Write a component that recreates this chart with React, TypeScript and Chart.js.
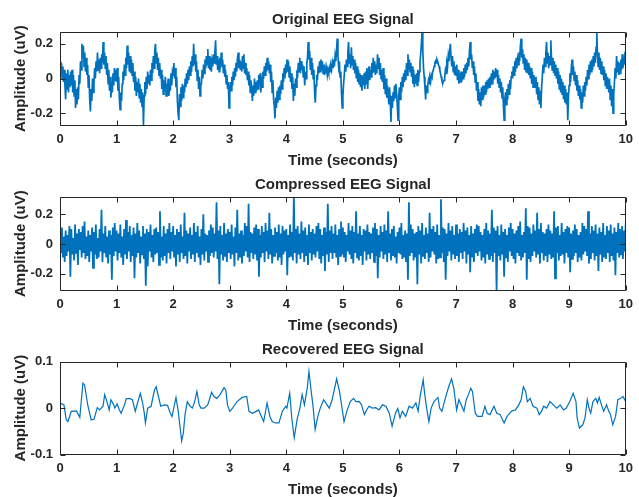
import React, { useEffect, useRef } from 'react';
import { Chart, registerables } from 'chart.js';

Chart.register(...registerables);

const TITLES = ['Original EEG Signal', 'Compressed EEG Signal', 'Recovered EEG Signal'];
const X_LABEL = 'Time (seconds)';
const Y_LABEL = 'Amplitude (uV)';
const X_TICKS = [0, 1, 2, 3, 4, 5, 6, 7, 8, 9, 10];
const Y_TICKS_ORIGINAL = [-0.2, 0, 0.2];
const Y_TICKS_COMPRESSED = [-0.2, 0, 0.2];
const Y_TICKS_RECOVERED = [-0.1, 0, 0.1];
const DURATION = 10;

// Original EEG signal, sampled uniformly over 0..10 s (8 samples per 0.1 s)
const originalSignal = [
  0.10, 0.03, 0.09, 0.00, 0.07, -0.02, 0.05, -0.04,
  -0.12, 0.03, -0.06, 0.05, -0.08, 0.02, -0.05, 0.04,
  -0.04, 0.05, -0.08, 0.02, -0.10, -0.01, -0.17, -0.06,
  -0.15, -0.05, -0.12, 0.02, -0.03, 0.10, 0.05, 0.20,
  0.12, 0.19, 0.07, 0.15, 0.04, 0.12, 0.02, 0.08,
  -0.05, 0.02, -0.12, -0.19, -0.06, -0.13, 0.00, -0.08,
  -0.03, 0.06, 0.00, 0.10, 0.04, 0.15, 0.05, 0.11,
  0.03, 0.12, 0.06, 0.14, 0.09, 0.21, 0.08, 0.15,
  0.06, 0.13, 0.02, 0.09, -0.03, 0.05, -0.07, 0.01,
  -0.11, -0.02, -0.08, 0.03, -0.04, 0.06, -0.01, 0.05,
  -0.02, 0.06, -0.07, 0.01, -0.12, -0.18, -0.08, -0.13,
  -0.03, 0.04, -0.01, 0.08, 0.02, 0.12, 0.06, 0.19,
  0.08, 0.15, 0.04, 0.13, 0.03, 0.11, 0.02, 0.09,
  -0.02, 0.04, -0.07, 0.01, -0.10, -0.02, -0.08, 0.00,
  -0.11, -0.03, -0.14, -0.06, -0.16, -0.08, -0.27, -0.10,
  -0.02, -0.09, 0.01, -0.06, 0.04, -0.03, 0.02, -0.04,
  0.05, -0.01, 0.09, 0.03, 0.13, 0.06, 0.16, 0.20,
  0.09, 0.15, 0.05, 0.12, 0.02, 0.09, 0.00, 0.05,
  -0.06, 0.02, -0.09, -0.01, -0.07, 0.01, -0.10, -0.03,
  -0.06, 0.00, -0.10, -0.02, -0.07, 0.03, -0.04, 0.04,
  0.02, 0.09, 0.00, 0.06, -0.05, 0.01, -0.13, -0.20,
  -0.24, -0.09, -0.16, -0.05, -0.13, -0.03, -0.11, -0.04,
  -0.08, 0.00, -0.05, 0.03, -0.03, 0.05, -0.01, 0.07,
  0.02, 0.10, 0.04, 0.13, 0.07, 0.20, 0.08, 0.14,
  0.04, 0.10, -0.01, 0.05, -0.06, 0.01, -0.10, -0.04,
  -0.03, 0.05, 0.00, 0.08, 0.03, 0.11, 0.06, 0.13,
  0.08, 0.17, 0.06, 0.13, 0.05, 0.12, 0.04, 0.10,
  0.07, 0.14, 0.09, 0.15, 0.22, 0.08, 0.13, 0.05,
  0.11, 0.04, 0.12, 0.06, 0.15, 0.07, 0.11, 0.03,
  0.08, 0.01, 0.05, -0.03, 0.02, -0.06, -0.02, -0.17,
  -0.09, -0.02, -0.07, 0.01, -0.04, 0.04, -0.01, 0.06,
  0.01, 0.09, 0.04, 0.12, 0.15, 0.06, 0.11, 0.05,
  0.10, 0.04, 0.13, 0.06, 0.14, 0.03, 0.09, 0.02,
  0.06, -0.01, 0.04, -0.04, 0.02, -0.08, -0.01, -0.05,
  -0.13, -0.04, -0.10, 0.00, -0.08, -0.02, -0.07, -0.01,
  -0.06, 0.02, -0.04, 0.03, -0.08, 0.01, -0.05, 0.04,
  0.00, 0.07, 0.02, 0.09, 0.04, 0.12, 0.05, 0.10,
  0.03, 0.08, -0.02, 0.04, -0.08, -0.01, -0.12, -0.16,
  -0.23, -0.11, -0.17, -0.07, -0.14, -0.05, -0.12, -0.04,
  -0.09, -0.01, -0.06, 0.03, -0.02, 0.06, 0.00, 0.08,
  0.03, 0.11, 0.04, 0.10, 0.01, 0.07, -0.02, 0.03,
  -0.06, 0.01, -0.13, -0.03, -0.10, 0.00, -0.05, 0.03,
  0.02, 0.09, 0.04, 0.12, 0.03, 0.10, 0.05, 0.08,
  0.01, 0.07, -0.04, 0.04, 0.00, 0.09, 0.12, 0.21,
  0.11, 0.16, 0.05, 0.12, 0.02, 0.09, 0.00, 0.05,
  -0.08, -0.14, -0.04, 0.02, -0.01, 0.07, 0.03, 0.10,
  0.04, 0.11, 0.05, 0.10, 0.03, 0.08, 0.02, 0.06,
  0.03, 0.06, 0.02, 0.05, 0.03, 0.06, 0.04, 0.07,
  0.05, 0.09, 0.06, 0.11, 0.07, 0.13, 0.10, 0.16,
  0.23, 0.13, 0.07, 0.10, 0.01, 0.04, -0.08, -0.17,
  -0.10, -0.03, 0.02, 0.08, 0.04, 0.11, 0.07, 0.15,
  0.21, 0.09, 0.14, 0.06, 0.18, 0.08, 0.13, 0.05,
  0.11, 0.03, 0.09, 0.00, 0.07, -0.02, 0.05, -0.03,
  0.03, -0.05, 0.02, -0.07, 0.01, -0.04, 0.03, -0.06,
  0.04, -0.03, 0.06, -0.06, 0.02, 0.07, -0.01, 0.05,
  0.01, 0.09, 0.03, 0.12, 0.04, 0.10, 0.02, 0.08,
  0.03, 0.14, 0.06, 0.12, 0.02, 0.09, 0.00, 0.05,
  -0.02, 0.06, -0.06, 0.02, -0.09, 0.00, -0.11, -0.04,
  -0.09, -0.15, -0.05, -0.13, -0.25, -0.10, -0.17, -0.08,
  -0.13, -0.04, -0.11, -0.03, -0.09, -0.16, -0.24, -0.10,
  -0.05, -0.12, -0.02, -0.08, 0.01, -0.05, 0.03, -0.02,
  0.05, -0.01, 0.09, 0.02, 0.14, 0.05, 0.11, 0.04,
  0.09, 0.01, 0.07, -0.03, 0.05, -0.05, 0.02, -0.03,
  0.03, -0.04, 0.05, -0.02, 0.04, 0.09, 0.14, 0.20,
  0.27, 0.16, 0.06, 0.01, -0.05, -0.12, -0.04, -0.08,
  -0.04, -0.01, -0.03, 0.00, -0.02, 0.02, 0.01, 0.04,
  0.05, 0.07, 0.09, 0.10, 0.09, 0.11, 0.10, 0.08,
  0.07, 0.05, 0.03, 0.01, -0.01, -0.03, -0.02, -0.01,
  0.01, 0.05, 0.03, 0.09, 0.07, 0.13, 0.10, 0.16,
  0.20, 0.12, 0.07, 0.13, 0.04, 0.10, 0.02, 0.07,
  0.02, 0.08, -0.01, 0.05, -0.03, 0.03, -0.02, 0.04,
  -0.02, 0.04, 0.00, 0.06, 0.01, 0.08, 0.03, 0.09,
  0.05, 0.12, 0.07, 0.16, 0.21, 0.11, 0.14, 0.06,
  0.10, 0.02, 0.07, -0.02, 0.03, -0.07, -0.02, -0.13,
  -0.06, -0.15, -0.08, -0.16, -0.05, -0.12, -0.04, -0.11,
  -0.04, -0.09, -0.02, -0.08, -0.01, -0.06, 0.00, -0.05,
  0.01, -0.04, 0.03, -0.03, 0.05, -0.01, 0.04, 0.00,
  0.06, 0.01, 0.05, -0.03, 0.02, -0.05, 0.00, -0.08,
  -0.02, -0.11, -0.05, -0.16, -0.24, -0.12, -0.08, -0.15,
  -0.06, -0.12, -0.03, -0.09, -0.01, -0.06, 0.01, 0.04,
  0.00, 0.07, 0.02, 0.10, 0.04, 0.12, 0.06, 0.11,
  0.08, 0.15, 0.10, 0.19, 0.23, 0.12, 0.17, 0.09,
  0.14, 0.05, 0.12, 0.04, 0.11, 0.03, 0.09, 0.02,
  0.07, 0.00, 0.06, -0.03, 0.04, -0.05, 0.02, -0.02,
  -0.05, 0.01, -0.09, -0.02, -0.12, -0.05, -0.15, -0.07,
  -0.17, -0.05, 0.01, 0.08, 0.03, 0.12, 0.07, 0.15,
  0.21, 0.09, 0.15, 0.06, 0.13, 0.08, 0.22, 0.11,
  0.05, 0.12, 0.03, 0.10, 0.02, 0.08, 0.00, 0.06,
  -0.03, 0.04, -0.06, 0.02, -0.08, 0.00, -0.09, -0.02,
  -0.12, -0.04, -0.14, -0.06, -0.15, -0.08, -0.24, -0.10,
  -0.04, 0.03, -0.02, 0.06, 0.11, 0.02, 0.07, -0.01,
  0.04, -0.04, 0.02, -0.07, -0.01, -0.10, -0.04, -0.12,
  -0.06, -0.17, -0.08, -0.14, -0.04, -0.10, -0.02, -0.07,
  0.01, -0.04, 0.05, 0.00, 0.08, 0.02, 0.10, 0.04,
  0.11, 0.05, 0.13, 0.07, 0.15, 0.09, 0.18, 0.27,
  0.14, 0.07, 0.15, 0.05, 0.12, 0.03, 0.10, 0.02,
  0.07, -0.01, 0.05, -0.04, 0.03, -0.06, 0.01, -0.03,
  -0.08, 0.00, -0.12, -0.04, -0.16, -0.06, -0.20, -0.09,
  -0.02, 0.06, 0.00, 0.13, 0.04, 0.10, 0.02, 0.09,
  0.03, 0.11, 0.05, 0.14, 0.06, 0.12, 0.08, 0.15,
  0.18,
];

// Compressed EEG signal, sampled uniformly over 0..10 s
const compressedSignal = [
  0.08, -0.06, 0.11, -0.09, 0.05, -0.12, 0.09, -0.08, 0.06, -0.05, 0.12, -0.22,
  0.10, -0.07, 0.04, -0.11, 0.13, -0.06, 0.07, -0.14, 0.10, -0.04, 0.08, -0.09,
  0.12, -0.06, 0.15, -0.10, 0.05, -0.08, 0.09, -0.12, 0.06, -0.05, 0.11, -0.16,
  0.08, -0.07, 0.13, -0.10, 0.04, -0.09, 0.10, -0.05, 0.23, -0.12, 0.07, -0.06,
  0.12, -0.09, 0.05, -0.13, 0.09, -0.07, 0.06, -0.24, 0.11, -0.08, 0.14, -0.05,
  0.09, -0.11, 0.07, -0.06, 0.13, -0.09, 0.05, -0.14, 0.10, -0.07, 0.16, -0.10,
  0.08, -0.05, 0.12, -0.12, 0.06, -0.08, 0.11, -0.23, 0.07, -0.09, 0.14, -0.06,
  0.09, -0.13, 0.05, -0.07, 0.12, -0.10, 0.07, -0.28, 0.10, -0.15, 0.08, -0.05,
  0.13, -0.09, 0.06, -0.12, 0.10, -0.07, 0.11, -0.06, 0.08, -0.14, 0.22, -0.09,
  0.05, -0.11, 0.12, -0.08, 0.07, -0.13, 0.10, -0.06, 0.14, -0.10, 0.08, -0.05,
  0.12, -0.09, 0.06, -0.15, 0.10, -0.07, 0.08, -0.12, 0.13, -0.06, 0.05, -0.10,
  0.21, -0.08, 0.09, -0.13, 0.07, -0.05, 0.11, -0.10, 0.06, -0.07, 0.14, -0.12,
  0.08, -0.06, 0.12, -0.09, 0.05, -0.14, 0.10, -0.07, 0.20, -0.11, 0.07, -0.05,
  0.06, -0.12, 0.09, -0.08, 0.13, -0.06, 0.11, -0.09, 0.07, -0.05, 0.28, -0.10,
  0.09, -0.27, 0.12, -0.07, 0.06, -0.11, 0.14, -0.08, 0.07, -0.12, 0.10, -0.06,
  0.08, -0.10, 0.13, -0.07, 0.05, -0.15, 0.11, -0.06, 0.23, -0.11, 0.07, -0.09,
  0.09, -0.13, 0.06, -0.08, 0.14, -0.05, 0.12, -0.09, 0.27, -0.12, 0.08, -0.06,
  0.07, -0.10, 0.11, -0.07, 0.13, -0.11, 0.10, -0.22, 0.06, -0.09, 0.12, -0.06,
  0.08, -0.12, 0.14, -0.05, 0.09, -0.10, 0.21, -0.07, 0.10, -0.13, 0.06, -0.08,
  0.11, -0.06, 0.08, -0.11, 0.13, -0.09, 0.07, -0.14, 0.12, -0.07, 0.09, -0.05,
  0.10, -0.21, 0.06, -0.09, 0.13, -0.08, 0.08, -0.11, 0.32, -0.06, 0.10, -0.13,
  0.12, -0.07, 0.07, -0.10, 0.15, -0.06, 0.09, -0.12, 0.11, -0.08, 0.06, -0.14,
  0.13, -0.06, 0.08, -0.11, 0.10, -0.07, 0.07, -0.09, 0.12, -0.05, 0.14, -0.10,
  0.10, -0.13, 0.06, -0.08, 0.11, -0.18, 0.08, -0.07, 0.27, -0.12, 0.09, -0.06,
  0.12, -0.10, 0.07, -0.06, 0.13, -0.09, 0.06, -0.14, 0.10, -0.08, 0.15, -0.07,
  0.11, -0.09, 0.08, -0.12, 0.06, -0.05, 0.14, -0.07, 0.09, -0.10, 0.12, -0.13,
  0.08, -0.06, 0.22, -0.09, 0.07, -0.11, 0.12, -0.08, 0.06, -0.14, 0.10, -0.05,
  0.09, -0.11, 0.13, -0.07, 0.08, -0.10, 0.07, -0.06, 0.11, -0.12, 0.14, -0.08,
  0.10, -0.23, 0.06, -0.09, 0.12, -0.05, 0.08, -0.10, 0.13, -0.07, 0.09, -0.12,
  0.22, -0.06, 0.07, -0.11, 0.10, -0.08, 0.12, -0.09, 0.05, -0.13, 0.08, -0.06,
  0.11, -0.07, 0.14, -0.10, 0.06, -0.09, 0.09, -0.12, 0.07, -0.24, 0.28, -0.08,
  0.13, -0.06, 0.10, -0.11, 0.07, -0.09, 0.08, -0.27, 0.12, -0.07, 0.09, -0.13,
  0.14, -0.08, 0.06, -0.10, 0.11, -0.06, 0.07, -0.12, 0.21, -0.09, 0.10, -0.05,
  0.12, -0.07, 0.08, -0.13, 0.13, -0.10, 0.06, -0.09, 0.30, -0.06, 0.11, -0.12,
  0.10, -0.24, 0.07, -0.08, 0.14, -0.05, 0.09, -0.11, 0.12, -0.07, 0.06, -0.10,
  0.13, -0.08, 0.07, -0.12, 0.10, -0.06, 0.08, -0.10, 0.14, -0.05, 0.09, -0.13,
  0.11, -0.07, 0.06, -0.19, 0.12, -0.09, 0.07, -0.12, 0.10, -0.06, 0.13, -0.08,
  0.12, -0.05, 0.08, -0.11, 0.06, -0.09, 0.10, -0.13, 0.14, -0.07, 0.09, -0.10,
  0.07, -0.08, 0.23, -0.12, 0.11, -0.06, 0.09, -0.31, 0.12, -0.08, 0.06, -0.11,
  0.13, -0.07, 0.08, -0.22, 0.10, -0.09, 0.06, -0.12, 0.11, -0.05, 0.14, -0.08,
  0.10, -0.10, 0.07, -0.13, 0.09, -0.06, 0.12, -0.08, 0.15, -0.11, 0.06, -0.09,
  0.08, -0.06, 0.24, -0.24, 0.12, -0.10, 0.11, -0.12, 0.07, -0.08, 0.13, -0.05,
  0.09, -0.09, 0.21, -0.07, 0.10, -0.13, 0.14, -0.06, 0.08, -0.11, 0.07, -0.08,
  0.10, -0.12, 0.13, -0.07, 0.09, -0.10, 0.07, -0.09, 0.22, -0.23, 0.11, -0.06,
  0.12, -0.11, 0.06, -0.08, 0.14, -0.07, 0.08, -0.13, 0.10, -0.06, 0.12, -0.09,
  0.11, -0.19, 0.07, -0.10, 0.09, -0.08, 0.13, -0.06, 0.10, -0.12, 0.06, -0.09,
  0.08, -0.11, 0.14, -0.07, 0.12, -0.05, 0.10, -0.08, 0.22, -0.13, 0.07, -0.10,
  0.12, -0.06, 0.09, -0.11, 0.13, -0.08, 0.07, -0.18, 0.11, -0.07, 0.08, -0.12,
  0.14, -0.09, 0.06, -0.10, 0.12, -0.06, 0.09, -0.12, 0.13, -0.08, 0.07, -0.11,
  0.11, -0.21, 0.08, -0.06, 0.14, -0.09, 0.10, -0.07, 0.12, -0.10, 0.09, -0.05,
  0.14,
];

// Recovered EEG signal: sample times (s) and values (uV)
const recoveredTime = [
  0, 0.07, 0.11, 0.14, 0.2, 0.29, 0.35, 0.405, 0.435, 0.49,
  0.55, 0.6, 0.66, 0.7, 0.76, 0.79, 0.83, 0.87, 0.9, 0.95,
  0.97, 1.01, 1.05, 1.08, 1.14, 1.17, 1.23, 1.28, 1.33, 1.37,
  1.42, 1.46, 1.49, 1.51, 1.55, 1.61, 1.67, 1.7, 1.74, 1.78,
  1.84, 1.9, 1.95, 1.98, 2.05, 2.09, 2.12, 2.15, 2.18, 2.21,
  2.25, 2.3, 2.34, 2.38, 2.42, 2.46, 2.49, 2.55, 2.61, 2.64,
  2.68, 2.72, 2.77, 2.83, 2.9, 2.93, 2.96, 3.0, 3.05, 3.07,
  3.13, 3.22, 3.3, 3.34, 3.4, 3.47, 3.51, 3.56, 3.6, 3.66,
  3.71, 3.75, 3.81, 3.87, 3.93, 3.99, 4.01, 4.06, 4.1, 4.14,
  4.19, 4.24, 4.28, 4.32, 4.37, 4.4, 4.44, 4.47, 4.51, 4.55,
  4.6, 4.66, 4.72, 4.76, 4.81, 4.89, 4.94, 4.98, 5.02, 5.07,
  5.13, 5.19, 5.23, 5.29, 5.33, 5.38, 5.42, 5.46, 5.52, 5.58,
  5.64, 5.7, 5.76, 5.82, 5.87, 5.93, 5.97, 6.01, 6.05, 6.11,
  6.17, 6.23, 6.29, 6.33, 6.37, 6.42, 6.44, 6.48, 6.52, 6.56,
  6.61, 6.68, 6.71, 6.75, 6.81, 6.87, 6.92, 6.96, 7.01, 7.05,
  7.09, 7.14, 7.18, 7.22, 7.26, 7.29, 7.34, 7.38, 7.46, 7.51,
  7.55, 7.6, 7.67, 7.72, 7.78, 7.85, 7.9, 7.95, 7.99, 8.05,
  8.11, 8.15, 8.19, 8.23, 8.26, 8.31, 8.36, 8.43, 8.47, 8.51,
  8.55, 8.6, 8.66, 8.72, 8.78, 8.84, 8.9, 8.95, 9.01, 9.07,
  9.12, 9.14, 9.18, 9.24, 9.28, 9.32, 9.35, 9.38, 9.42, 9.47,
  9.5, 9.53, 9.57, 9.61, 9.66, 9.7, 9.73, 9.77, 9.82, 9.86,
  9.91, 9.95, 10,
];
const recoveredSignal = [
  0.011, 0.007, -0.025, -0.029, -0.007, -0.006, -0.02, 0.054, 0.05, 0.007,
  -0.025, -0.024, 0.001, -0.004, 0.004, 0.029, 0.014, -0.004, 0.018, 0.007,
  0, 0.009, -0.004, -0.011, 0.007, 0.02, 0.021, 0.018, -0.007, 0.011,
  0.032, 0.011, -0.011, -0.032, 0, 0.004, 0.039, 0.046, 0.025, 0.004,
  0.007, 0.006, -0.011, -0.018, 0.023, -0.007, -0.039, -0.071, -0.054, -0.014,
  0.014, 0.004, 0, 0.014, 0.036, 0.007, 0, 0, 0.007, 0.018,
  0.034, 0.025, 0.021, 0.029, 0.044, 0.039, 0.007, -0.007, 0, 0.004,
  0.014, 0.023, 0.025, -0.007, -0.011, -0.007, -0.004, -0.018, -0.029, 0.011,
  -0.018, -0.029, -0.032, -0.032, -0.007, 0.004, 0, 0.032, -0.025, -0.064,
  -0.025, 0, 0.029, 0.007, 0.043, 0.079, 0.036, 0.007, -0.046, -0.021,
  0, 0.018, 0.007, 0, 0.018, 0.063, 0.036, 0.004, -0.029, -0.007,
  0.014, 0.021, 0.014, 0.014, 0.007, -0.014, -0.004, 0.004, 0, 0.001,
  -0.004, 0.007, 0.004, -0.011, -0.039, -0.011, -0.001, -0.021, -0.007, -0.018,
  0.004, 0, 0.011, -0.007, 0.029, 0.061, 0.036, 0, -0.029, 0,
  0.014, 0.023, 0, -0.007, 0.021, 0.046, 0.063, 0.043, -0.004, 0.018,
  0.007, -0.007, 0.018, 0.029, 0.043, 0.036, -0.011, -0.018, -0.018, 0.004,
  -0.011, -0.014, 0.004, -0.011, -0.014, -0.032, -0.018, -0.011, -0.006, -0.004,
  0.007, 0.018, 0.046, 0.036, 0.014, 0.021, 0.004, 0, -0.014, -0.007,
  0.004, 0, 0.014, 0.007, 0, 0.007, -0.004, 0, 0.014, 0.032,
  0.014, -0.021, -0.043, -0.036, -0.021, 0.018, 0, -0.011, 0.014, 0.021,
  0.011, 0.023, 0.007, -0.007, 0.007, -0.007, -0.014, -0.036, -0.018, 0.018,
  0.021, 0.025, 0.014,
];

const FONT = '"Liberation Sans", Arial, Helvetica, sans-serif';
const TEXT = '#262626';
const AXIS = '#262626';
const BLUE = '#0072BD';

const uniform = (vals: number[]) =>
  vals.map((v, i) => ({ x: (i * DURATION) / (vals.length - 1), y: v }));

const matlabAxes = {
  id: 'matlabAxes',
  afterDatasetsDraw(chart: any) {
    const { ctx, chartArea: a } = chart;
    const xs = chart.scales.x;
    const ys = chart.scales.y;
    const L = Math.round(a.left) + 0.5;
    const R = Math.round(a.right) - 0.5;
    const T = Math.round(a.top) + 0.5;
    const B = Math.round(a.bottom) - 0.5;
    const len = 5;
    ctx.save();
    ctx.strokeStyle = AXIS;
    ctx.lineWidth = 1;
    ctx.beginPath();
    ctx.rect(L, T, R - L, B - T);
    xs.ticks.forEach((t: any) => {
      const px = Math.round(xs.getPixelForValue(t.value)) + 0.5;
      ctx.moveTo(px, B);
      ctx.lineTo(px, B - len);
      ctx.moveTo(px, T);
      ctx.lineTo(px, T + len);
    });
    ys.ticks.forEach((t: any) => {
      const py = Math.round(ys.getPixelForValue(t.value)) + 0.5;
      ctx.moveTo(L, py);
      ctx.lineTo(L + len, py);
      ctx.moveTo(R, py);
      ctx.lineTo(R - len, py);
    });
    ctx.stroke();
    ctx.restore();
  },
};

type PanelProps = {
  top: number;
  height: number;
  title: string;
  points: { x: number; y: number }[];
  yMin: number;
  yMax: number;
  yTicks: number[];
  titlePadTop: number;
  titlePadBottom: number;
  xAxisHeight: number;
  xTitlePadBottom: number;
  lineWidth: number;
};

function Panel(p: PanelProps) {
  const ref = useRef<HTMLCanvasElement>(null);
  useEffect(() => {
    const canvas = ref.current;
    if (!canvas) return;
    const tickFont = { family: FONT, size: 13, weight: 'bold' as const };
    const labelFont = { family: FONT, size: 15, weight: 'bold' as const };
    const chart = new Chart(canvas, {
      type: 'line',
      data: {
        datasets: [
          {
            data: p.points,
            borderColor: BLUE,
            borderWidth: p.lineWidth,
            pointRadius: 0,
            tension: 0,
            fill: false,
          },
        ],
      },
      options: {
        responsive: false,
        animation: false,
        devicePixelRatio: 1,
        events: [],
        layout: { padding: { left: 0, right: 11, top: 0, bottom: 0 } },
        plugins: {
          legend: { display: false },
          tooltip: { enabled: false },
          title: {
            display: true,
            text: p.title,
            fullSize: false,
            color: TEXT,
            font: labelFont,
            padding: { top: p.titlePadTop, bottom: p.titlePadBottom },
          },
        },
        scales: {
          x: {
            type: 'linear',
            min: 0,
            max: DURATION,
            grid: { display: false, drawTicks: false },
            border: { display: false },
            ticks: {
              color: TEXT,
              font: tickFont,
              padding: 6,
              maxRotation: 0,
              autoSkip: false,
              callback: (v: any) => String(v),
            },
            title: {
              display: true,
              text: X_LABEL,
              color: TEXT,
              font: labelFont,
              padding: { top: 0, bottom: p.xTitlePadBottom },
            },
            afterBuildTicks: (s: any) => {
              s.ticks = X_TICKS.map((value) => ({ value }));
            },
            afterFit: (s: any) => {
              s.height = p.xAxisHeight;
            },
          },
          y: {
            type: 'linear',
            min: p.yMin,
            max: p.yMax,
            grid: { display: false, drawTicks: false },
            border: { display: false },
            ticks: {
              color: TEXT,
              font: tickFont,
              padding: 7,
              autoSkip: false,
              callback: (v: any) => String(v),
            },
            title: {
              display: true,
              text: Y_LABEL,
              color: TEXT,
              font: labelFont,
              padding: { top: 12, bottom: 0 },
            },
            afterBuildTicks: (s: any) => {
              s.ticks = p.yTicks.map((value) => ({ value }));
            },
            afterFit: (s: any) => {
              s.width = 60;
            },
          },
        },
      },
      plugins: [matlabAxes],
    } as any);
    return () => chart.destroy();
  }, []);
  return (
    <canvas
      ref={ref}
      width={639}
      height={p.height}
      style={{ position: 'absolute', left: 0, top: p.top, width: 639, height: p.height, display: 'block' }}
    />
  );
}

export default function App() {
  return (
    <div
      style={{
        position: 'absolute',
        left: 0,
        top: 0,
        width: 639,
        height: 497,
        overflow: 'hidden',
        background: '#ffffff',
      }}
    >
      <Panel
        top={0}
        height={170}
        title={TITLES[0]}
        points={uniform(originalSignal)}
        yMin={-0.272}
        yMax={0.27}
        yTicks={Y_TICKS_ORIGINAL}
        titlePadTop={10.5}
        titlePadBottom={3.2}
        xAxisHeight={44.3}
        xTitlePadBottom={0}
        lineWidth={1.7}
      />
      <Panel
        top={170}
        height={165}
        title={TITLES[1]}
        points={uniform(compressedSignal)}
        yMin={-0.313}
        yMax={0.317}
        yTicks={Y_TICKS_COMPRESSED}
        titlePadTop={6}
        titlePadBottom={2.7}
        xAxisHeight={44.3}
        xTitlePadBottom={0}
        lineWidth={1.8}
      />
      <Panel
        top={335}
        height={166}
        title={TITLES[2]}
        points={recoveredTime.map((t, i) => ({ x: t, y: recoveredSignal[i] }))}
        yMin={-0.1}
        yMax={0.1}
        yTicks={Y_TICKS_RECOVERED}
        titlePadTop={6}
        titlePadBottom={2.7}
        xAxisHeight={46.5}
        xTitlePadBottom={2}
        lineWidth={1.2}
      />
    </div>
  );
}
